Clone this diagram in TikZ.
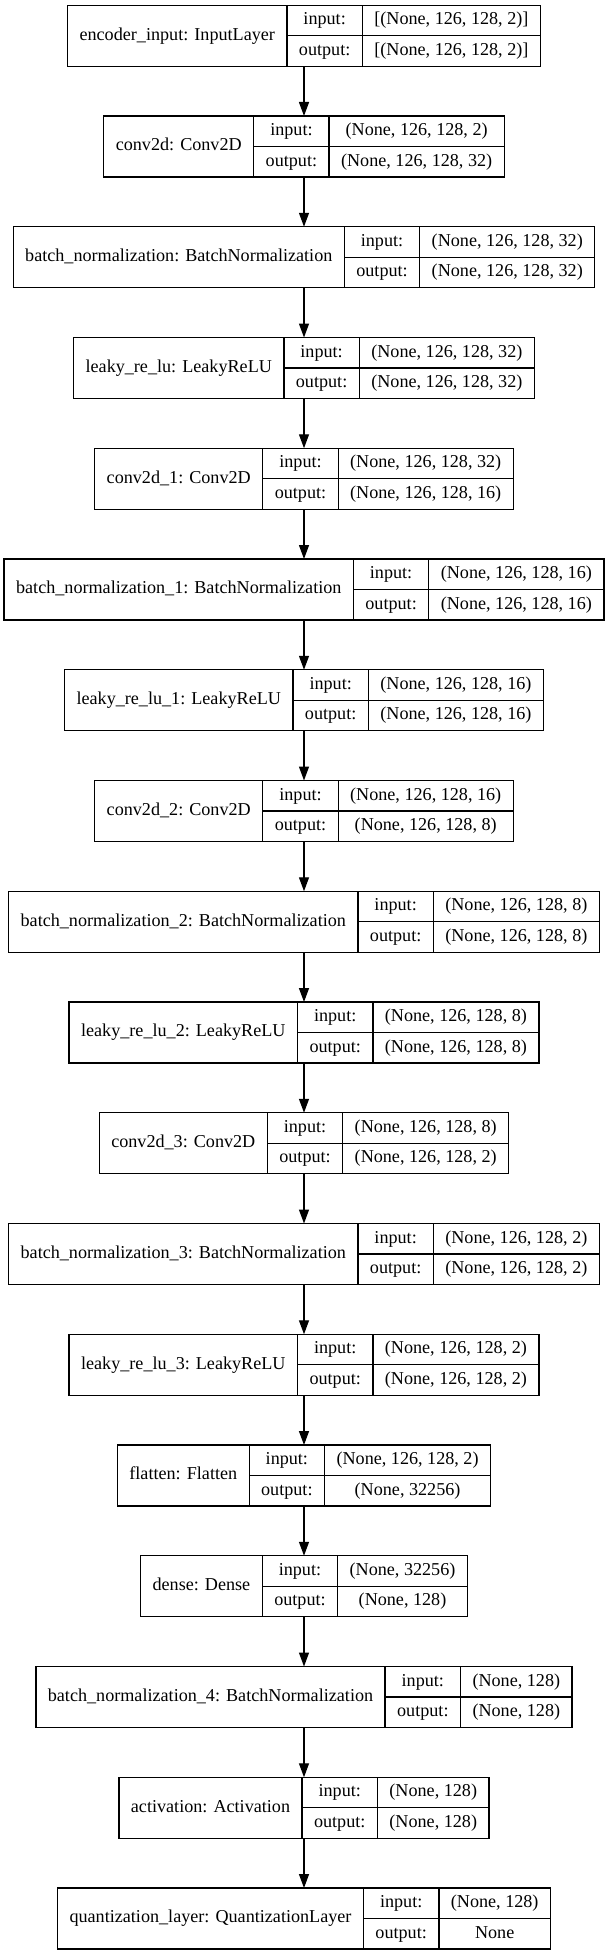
\documentclass[tikz,border=0pt]{standalone}
\usepackage{fontspec}
\setmainfont{Liberation Serif}
\usetikzlibrary{arrows.meta}
\newcommand\recfont{\fontsize{13.6pt}{16pt}\selectfont}
\newdimen\kdimn
\newdimen\kdima
\newdimen\kdimb
\newdimen\kdiml
\newsavebox\kmeasure
\tikzset{
  recbox/.style={draw=black, line width=1pt, inner sep=0pt, outer sep=0pt},
  sepline/.style={draw=black, line width=1pt},
  lbl/.style={font=\recfont, inner sep=0pt, text height=9.6pt, text depth=3pt, anchor=center},
  flow/.style={draw=black, line width=1pt, -{Triangle[length=10.5pt,width=7.5pt]}}
}
% #1 id, #2 top y (px), #3 layer text, #4 input shape, #5 output shape
\newcommand\kerasrec[5]{%
  \pgfinterruptpicture
    \sbox\kmeasure{\normalfont\recfont #3}\global\kdimn=\wd\kmeasure
    \sbox\kmeasure{\normalfont\recfont #4}\global\kdima=\wd\kmeasure
    \sbox\kmeasure{\normalfont\recfont #5}\global\kdimb=\wd\kmeasure
    \sbox\kmeasure{\normalfont\recfont output:}\global\kdiml=\wd\kmeasure
  \endpgfinterruptpicture
  \ifdim\kdimb>\kdima \kdima=\kdimb\fi
  \pgfmathsetmacro\wn{\kdimn/0.75+24}%
  \pgfmathsetmacro\wl{\kdiml/0.75+24}%
  \pgfmathsetmacro\wv{\kdima/0.75+24}%
  \pgfmathsetmacro\tot{\wn+\wl+\wv}%
  \pgfmathsetmacro\xl{304-\tot/2}%
  \pgfmathsetmacro\xa{\xl+\wn}%
  \pgfmathsetmacro\xb{\xa+\wl}%
  \pgfmathsetmacro\xr{\xl+\tot}%
  \pgfmathsetmacro\yt{#2}%
  \pgfmathsetmacro\ym{#2+30.5}%
  \pgfmathsetmacro\yb{#2+61}%
  \pgfmathsetmacro\yi{#2+15.25}%
  \pgfmathsetmacro\yo{#2+45.75}%
  \node[recbox, minimum width=\tot*0.75pt, minimum height=45.75pt] (#1) at (304,\ym) {};
  \draw[sepline] (\xa,\yt) -- (\xa,\yb) (\xb,\yt) -- (\xb,\yb) (\xa,\ym) -- (\xr,\ym);
  \node[lbl] (#1-name) at ({(\xl+\xa)/2},\ym) {#3};
  \node[lbl] (#1-inl) at ({(\xa+\xb)/2},\yi) {input:};
  \node[lbl] (#1-outl) at ({(\xa+\xb)/2},\yo) {output:};
  \node[lbl] (#1-inv) at ({(\xb+\xr)/2},\yi) {#4};
  \node[lbl] (#1-outv) at ({(\xb+\xr)/2},\yo) {#5};
}
\begin{document}
\begin{tikzpicture}[x=0.75pt, y=-0.75pt]
\useasboundingbox (0,0) rectangle (608,1955);
\kerasrec{n1}{5.25}{encoder\_input: InputLayer}{[(None, 126, 128, 2)]}{[(None, 126, 128, 2)]}
\kerasrec{n2}{116}{conv2d: Conv2D}{(None, 126, 128, 2)}{(None, 126, 128, 32)}
\kerasrec{n3}{226.75}{batch\_normalization: BatchNormalization}{(None, 126, 128, 32)}{(None, 126, 128, 32)}
\kerasrec{n4}{337.5}{leaky\_re\_lu: LeakyReLU}{(None, 126, 128, 32)}{(None, 126, 128, 32)}
\kerasrec{n5}{448.25}{conv2d\_1: Conv2D}{(None, 126, 128, 32)}{(None, 126, 128, 16)}
\kerasrec{n6}{559}{batch\_normalization\_1: BatchNormalization}{(None, 126, 128, 16)}{(None, 126, 128, 16)}
\kerasrec{n7}{669.75}{leaky\_re\_lu\_1: LeakyReLU}{(None, 126, 128, 16)}{(None, 126, 128, 16)}
\kerasrec{n8}{780.5}{conv2d\_2: Conv2D}{(None, 126, 128, 16)}{(None, 126, 128, 8)}
\kerasrec{n9}{891.25}{batch\_normalization\_2: BatchNormalization}{(None, 126, 128, 8)}{(None, 126, 128, 8)}
\kerasrec{n10}{1002}{leaky\_re\_lu\_2: LeakyReLU}{(None, 126, 128, 8)}{(None, 126, 128, 8)}
\kerasrec{n11}{1112.75}{conv2d\_3: Conv2D}{(None, 126, 128, 8)}{(None, 126, 128, 2)}
\kerasrec{n12}{1223.5}{batch\_normalization\_3: BatchNormalization}{(None, 126, 128, 2)}{(None, 126, 128, 2)}
\kerasrec{n13}{1334.25}{leaky\_re\_lu\_3: LeakyReLU}{(None, 126, 128, 2)}{(None, 126, 128, 2)}
\kerasrec{n14}{1445}{flatten: Flatten}{(None, 126, 128, 2)}{(None, 32256)}
\kerasrec{n15}{1555.75}{dense: Dense}{(None, 32256)}{(None, 128)}
\kerasrec{n16}{1666.5}{batch\_normalization\_4: BatchNormalization}{(None, 128)}{(None, 128)}
\kerasrec{n17}{1777.25}{activation: Activation}{(None, 128)}{(None, 128)}
\kerasrec{n18}{1888}{quantization\_layer: QuantizationLayer}{(None, 128)}{None}
\foreach \a/\b in {n1/n2,n2/n3,n3/n4,n4/n5,n5/n6,n6/n7,n7/n8,n8/n9,n9/n10,n10/n11,n11/n12,n12/n13,n13/n14,n14/n15,n15/n16,n16/n17,n17/n18}
  \draw[flow] (\a) -- (\b);
\end{tikzpicture}
\end{document}
